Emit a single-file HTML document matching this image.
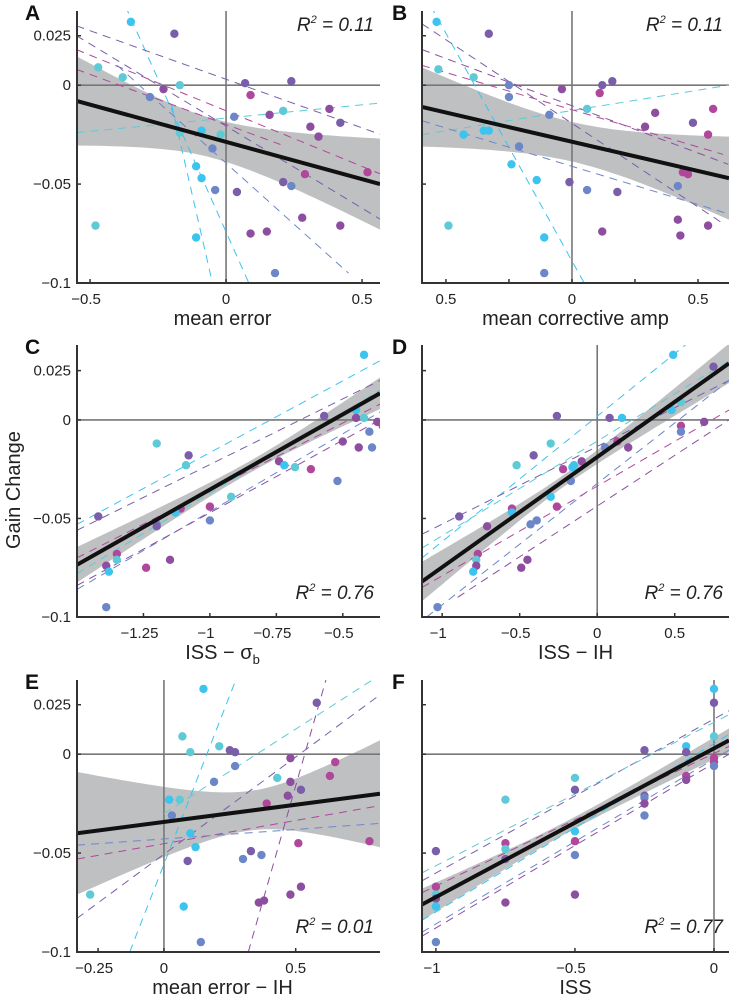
<!DOCTYPE html>
<html><head><meta charset="utf-8"><style>
body{margin:0;background:#fff;}
svg{display:block;font-family:"Liberation Sans",Arial,sans-serif;}
</style></head><body>
<svg id="fig" width="729" height="1005" viewBox="0 0 729 1005"></svg>
<script>
// ---------- DATA ----------
const colorCodes = {c:"#3cc3ee",t:"#5ecad5",b:"#6c87c8",p:"#7a5ea9",v:"#8d4ea0",m:"#b0479a"};
const pointsA = [[-0.35,0.032,'c'],[-0.19,0.026,'p'],[-0.47,0.009,'t'],[-0.38,0.004,'t'],[-0.23,-0.002,'v'],[-0.17,0.0,'t'],[-0.28,-0.006,'b'],[0.07,0.001,'p'],[0.24,0.002,'p'],[0.09,-0.005,'m'],[0.21,-0.013,'t'],[0.03,-0.016,'b'],[0.16,-0.015,'v'],[0.38,-0.012,'v'],[0.42,-0.019,'p'],[0.31,-0.021,'v'],[0.34,-0.026,'v'],[-0.17,-0.024,'t'],[-0.09,-0.023,'c'],[-0.02,-0.025,'t'],[-0.05,-0.032,'b'],[-0.11,-0.041,'c'],[-0.09,-0.047,'c'],[-0.04,-0.053,'b'],[0.04,-0.054,'p'],[0.21,-0.049,'p'],[0.24,-0.051,'b'],[0.29,-0.045,'m'],[0.52,-0.044,'m'],[-0.48,-0.071,'t'],[-0.11,-0.077,'c'],[0.09,-0.075,'v'],[0.15,-0.074,'v'],[0.28,-0.067,'v'],[0.42,-0.071,'v'],[0.18,-0.095,'b']];
const pointsB = [[-0.537,0.032,'c'],[-0.33,0.026,'p'],[-0.53,0.008,'t'],[-0.39,0.004,'t'],[-0.25,0.0,'b'],[-0.25,-0.006,'b'],[-0.04,-0.002,'v'],[0.06,-0.012,'t'],[-0.09,-0.015,'b'],[0.12,0.0,'p'],[0.16,0.002,'p'],[0.11,-0.004,'m'],[0.56,-0.012,'m'],[0.33,-0.014,'v'],[0.48,-0.019,'p'],[0.29,-0.021,'v'],[0.54,-0.025,'m'],[-0.43,-0.025,'c'],[-0.35,-0.023,'c'],[-0.33,-0.023,'c'],[-0.21,-0.031,'b'],[-0.24,-0.04,'c'],[-0.14,-0.048,'c'],[-0.01,-0.049,'p'],[0.06,-0.053,'b'],[0.18,-0.054,'p'],[0.44,-0.044,'m'],[0.46,-0.045,'m'],[0.42,-0.051,'b'],[-0.49,-0.071,'t'],[-0.11,-0.077,'c'],[0.12,-0.074,'v'],[0.42,-0.068,'v'],[0.43,-0.076,'v'],[0.54,-0.071,'v'],[-0.11,-0.095,'b']];
const pointsC = [[-0.42,0.033,'c'],[-0.27,0.027,'p'],[-0.32,0.009,'t'],[-0.45,0.005,'c'],[-0.57,0.002,'p'],[-0.45,0.001,'v'],[-0.42,0.001,'t'],[-0.40,-0.006,'b'],[-0.37,-0.001,'v'],[-0.35,-0.003,'m'],[-0.5,-0.011,'v'],[-0.44,-0.014,'v'],[-0.39,-0.014,'b'],[-1.20,-0.012,'t'],[-1.08,-0.018,'p'],[-1.09,-0.023,'t'],[-0.74,-0.021,'v'],[-0.72,-0.023,'c'],[-0.68,-0.024,'t'],[-0.62,-0.025,'m'],[-0.52,-0.031,'b'],[-0.92,-0.039,'t'],[-1.11,-0.045,'m'],[-1.13,-0.047,'c'],[-1.0,-0.044,'m'],[-1.0,-0.051,'b'],[-1.42,-0.049,'p'],[-1.20,-0.053,'b'],[-1.2,-0.054,'p'],[-1.35,-0.068,'m'],[-1.35,-0.071,'t'],[-1.39,-0.074,'v'],[-1.38,-0.077,'c'],[-1.24,-0.075,'m'],[-1.15,-0.071,'v'],[-1.39,-0.095,'b']];
const pointsD = [[0.49,0.033,'c'],[0.75,0.027,'p'],[0.54,0.009,'t'],[0.48,0.005,'c'],[-0.26,0.002,'p'],[0.08,0.001,'p'],[0.16,0.001,'c'],[0.54,-0.003,'m'],[0.54,-0.006,'b'],[0.69,-0.001,'v'],[-0.30,-0.012,'t'],[-0.41,-0.018,'p'],[0.05,-0.014,'b'],[0.13,-0.011,'m'],[0.20,-0.014,'v'],[-0.52,-0.023,'t'],[-0.22,-0.025,'m'],[-0.16,-0.024,'c'],[-0.15,-0.023,'c'],[-0.10,-0.021,'v'],[-0.17,-0.031,'b'],[-0.30,-0.039,'c'],[-0.26,-0.044,'m'],[-0.55,-0.045,'m'],[-0.55,-0.047,'c'],[-0.89,-0.049,'p'],[-0.43,-0.053,'b'],[-0.39,-0.051,'b'],[-0.71,-0.054,'v'],[-0.77,-0.068,'m'],[-0.78,-0.071,'t'],[-0.78,-0.074,'v'],[-0.80,-0.077,'c'],[-0.45,-0.071,'v'],[-0.49,-0.075,'v'],[-1.03,-0.095,'b']];
const pointsE = [[0.15,0.033,'c'],[0.58,0.026,'p'],[0.07,0.009,'t'],[0.21,0.004,'t'],[0.10,0.001,'t'],[0.25,0.002,'p'],[0.27,0.001,'p'],[0.27,-0.006,'b'],[0.48,-0.002,'v'],[0.65,-0.004,'m'],[0.43,-0.012,'t'],[0.19,-0.014,'b'],[0.48,-0.014,'v'],[0.63,-0.011,'m'],[0.47,-0.021,'v'],[0.52,-0.018,'p'],[0.39,-0.025,'m'],[0.02,-0.023,'c'],[0.06,-0.023,'t'],[0.03,-0.031,'b'],[0.10,-0.040,'c'],[0.12,-0.047,'c'],[0.51,-0.045,'m'],[0.78,-0.044,'m'],[0.09,-0.054,'p'],[0.33,-0.049,'p'],[0.30,-0.053,'b'],[0.37,-0.051,'b'],[-0.28,-0.071,'t'],[0.075,-0.077,'c'],[0.36,-0.075,'v'],[0.38,-0.074,'v'],[0.48,-0.071,'v'],[0.52,-0.067,'v'],[0.14,-0.095,'b']];
const pointsF = [[-1,-0.049,'p'],[-1,-0.067,'m'],[-1,-0.071,'t'],[-1,-0.073,'v'],[-1,-0.077,'c'],[-1,-0.095,'b'],[-0.75,-0.023,'t'],[-0.75,-0.045,'m'],[-0.75,-0.048,'t'],[-0.75,-0.053,'p'],[-0.75,-0.075,'v'],[-0.5,-0.012,'t'],[-0.5,-0.018,'p'],[-0.5,-0.039,'c'],[-0.5,-0.044,'m'],[-0.5,-0.051,'b'],[-0.5,-0.071,'v'],[-0.25,0.002,'p'],[-0.25,-0.021,'p'],[-0.25,-0.022,'b'],[-0.25,-0.025,'v'],[-0.25,-0.031,'b'],[-0.1,0.004,'c'],[-0.1,0.001,'p'],[-0.1,-0.011,'m'],[-0.1,-0.013,'v'],[0,0.033,'c'],[0,0.026,'p'],[0,0.009,'t'],[0,-0.002,'m'],[0,-0.004,'m'],[0,-0.006,'b']];
// fitted lines: [x0, y0, x1, y1]
const fitA=[-0.548,-0.008,0.566,-0.050], fitB=[-0.595,-0.011,0.623,-0.047], fitC=[-1.5,-0.0735,-0.36,0.0135];
const fitD=[-1.13,-0.082,0.85,0.0287], fitE=[-0.33,-0.040,0.82,-0.020], fitF=[-1.05,-0.076,0.054,0.007];
// confidence band half-widths: [xMid, wLeft, wMid, wRight]
const bandA=[-0.05,0.0225,0.010,0.023], bandB=[0,0.020,0.010,0.021], bandC=[-0.85,0.009,0.003,0.008];
const bandD=[-0.2,0.010,0.003,0.010], bandE=[0.33,0.031,0.010,0.027], bandF=[-0.5,0.008,0.003,0.006];
// per-subject dashed fits: [x0,y0,x1,y1,color]
const subjA=[[-0.37,0.04,0.1,-0.105,'c'],[-0.55,0.025,0.57,-0.068,'p'],[-0.55,0.018,0.57,-0.045,'m'],[-0.55,0.008,0.2,-0.03,'m'],[-0.55,-0.024,0.57,-0.009,'t'],[-0.4,0.01,0.45,-0.095,'b'],[-0.55,0.03,0.57,-0.025,'p'],[-0.2,-0.01,-0.05,-0.1,'c']];
const subjB=[[-0.56,0.04,0.07,-0.105,'c'],[-0.595,-0.025,0.623,0.0,'t'],[-0.595,0.031,0.6,-0.07,'p'],[-0.595,0.01,0.6,-0.035,'m'],[-0.595,0.018,0.62,-0.04,'v'],[-0.595,-0.018,0.62,-0.065,'b']];
const subjC=[[-1.5,-0.053,-0.36,0.03,'c'],[-1.5,-0.056,-0.36,0.02,'p'],[-1.5,-0.086,-0.36,0.004,'b'],[-1.5,-0.084,-0.36,0.0,'v'],[-1.5,-0.07,-0.36,0.008,'m'],[-1.5,-0.078,-0.36,0.015,'t']];
const subjD=[[-1.13,-0.07,0.6,0.04,'c'],[-1.13,-0.058,0.85,0.02,'p'],[-1.13,-0.065,0.85,0.03,'t'],[-1.1,-0.1,0.85,0.02,'b'],[-1.13,-0.085,0.85,0.005,'m'],[-0.9,-0.09,0.85,0.0,'v']];
const subjE=[[-0.13,-0.1,0.28,0.04,'c'],[0.32,-0.1,0.62,0.04,'v'],[0.0,-0.03,0.82,0.04,'t'],[-0.33,-0.083,0.82,0.03,'p'],[-0.33,-0.053,0.82,-0.026,'m'],[-0.33,-0.046,0.82,-0.035,'b']];
const subjF=[[-1.05,-0.064,0.054,0.022,'p'],[-1.05,-0.06,0.054,0.02,'t'],[-1.05,-0.09,0.054,0.002,'b'],[-1.05,-0.092,0.054,0.0,'v'],[-1.05,-0.07,0.054,0.004,'m'],[-1.05,-0.084,0.054,0.01,'c']];
const yTicks=[0.025,0,-0.05,-0.1], yTickLabels=["0.025","0","\u22120.05","\u22120.1"];
const xTicksA=[-0.5,0,0.5], xLabelsA=["\u22120.5","0","0.5"];
const xTicksB=[-0.5,-0.25,0,0.25,0.5], xLabelsB=["0.5","","0","","0.5"];
const xTicksC=[-1.25,-1,-0.75,-0.5], xLabelsC=["\u22121.25","\u22121","\u22120.75","\u22120.5"];
const xTicksD=[-1,-0.5,0,0.5], xLabelsD=["\u22121","\u22120.5","0","0.5"];
const xTicksE=[-0.25,0,0.5], xLabelsE=["\u22120.25","0","0.5"];
const xTicksF=[-1,-0.5,0], xLabelsF=["\u22121","\u22120.5","0"];
const r2Values=["0.11","0.11","0.76","0.76","0.01","0.77"];

// ---------- LAYOUT ----------
const NS="http://www.w3.org/2000/svg", svg=document.getElementById('fig');
function mk(tag,attrs,parent){const e=document.createElementNS(NS,tag);for(const k in attrs)e.setAttribute(k,attrs[k]);(parent||svg).appendChild(e);return e;}
const panels=[
 {id:'a',L:77,R:380,T:11,B:283,xd:[-0.548,0.566],yd:[-0.1,0.0375],pts:pointsA,fit:fitA,band:bandA,subj:subjA,xt:xTicksA,xl:xLabelsA,vz:true,ylab:true,title:'mean error',r2y:31},
 {id:'b',L:422,R:729,T:11,B:283,xd:[-0.595,0.623],yd:[-0.1,0.0375],pts:pointsB,fit:fitB,band:bandB,subj:subjB,xt:xTicksB,xl:xLabelsB,vz:true,ylab:false,title:'mean corrective amp',r2y:31},
 {id:'c',L:77,R:380,T:345,B:617,xd:[-1.5,-0.36],yd:[-0.1,0.038],pts:pointsC,fit:fitC,band:bandC,subj:subjC,xt:xTicksC,xl:xLabelsC,vz:false,ylab:true,title:'ISS \u2212 \u03c3',sub:'b',r2y:599},
 {id:'d',L:422,R:729,T:345,B:617,xd:[-1.13,0.85],yd:[-0.1,0.038],pts:pointsD,fit:fitD,band:bandD,subj:subjD,xt:xTicksD,xl:xLabelsD,vz:true,ylab:false,title:'ISS \u2212 IH',r2y:599},
 {id:'e',L:77,R:380,T:680,B:952,xd:[-0.33,0.82],yd:[-0.1,0.0375],pts:pointsE,fit:fitE,band:bandE,subj:subjE,xt:xTicksE,xl:xLabelsE,vz:true,ylab:true,title:'mean error \u2212 IH',r2y:933},
 {id:'f',L:422,R:729,T:680,B:952,xd:[-1.05,0.054],yd:[-0.1,0.0375],pts:pointsF,fit:fitF,band:bandF,subj:subjF,xt:xTicksF,xl:xLabelsF,vz:true,ylab:false,title:'ISS',r2y:933}
];
const defs=mk('defs',{});
panels.forEach((P,i)=>{
 const sx=v=>P.L+(v-P.xd[0])/(P.xd[1]-P.xd[0])*(P.R-P.L);
 const sy=v=>P.B-(v-P.yd[0])/(P.yd[1]-P.yd[0])*(P.B-P.T);
 const cp=mk('clipPath',{id:'clip'+P.id},defs); mk('rect',{x:P.L,y:P.T,width:P.R-P.L,height:P.B-P.T},cp);
 const g=mk('g',{});
 
 
 const inner=mk('g',{'clip-path':'url(#clip'+P.id+')'},g);
 // band
 const f=P.fit, ly=x=>f[1]+(x-f[0])*(f[3]-f[1])/(f[2]-f[0]);
 const bd=P.band, xm=bd[0];
 const kl=(bd[1]*bd[1]-bd[2]*bd[2])/Math.pow(P.xd[0]-xm,2), kr=(bd[3]*bd[3]-bd[2]*bd[2])/Math.pow(P.xd[1]-xm,2);
 const w=x=>Math.sqrt(bd[2]*bd[2]+(x<xm?kl:kr)*(x-xm)*(x-xm));
 let up=[],lo=[];
 for(let k=0;k<=60;k++){const x=P.xd[0]+(P.xd[1]-P.xd[0])*k/60;up.push(sx(x).toFixed(1)+','+sy(ly(x)+w(x)).toFixed(1));lo.unshift(sx(x).toFixed(1)+','+sy(ly(x)-w(x)).toFixed(1));}
 const band=mk('polygon',{points:up.concat(lo).join(' '),fill:'#bfc0c2'},inner);
 
 
 // zero lines
 const hz=mk('line',{x1:P.L,x2:P.R,y1:sy(0),y2:sy(0),stroke:'#777',"stroke-width":1.6},inner);
 
 
 if(P.vz){const vz=mk('line',{x1:sx(0),x2:sx(0),y1:P.T,y2:P.B,stroke:'#777',"stroke-width":1.6},inner);
  
  }
 // subject lines
 P.subj.forEach(s=>{const l=mk('line',{x1:sx(s[0]),y1:sy(s[1]),x2:sx(s[2]),y2:sy(s[3]),stroke:colorCodes[s[4]],"stroke-width":1,"stroke-dasharray":"8 6"},inner);
  
  });
 // points
 P.pts.forEach(p=>{const c=mk('circle',{cx:sx(p[0]),cy:sy(p[1]),r:4.2,fill:colorCodes[p[2]]},inner);
  
  });
 // fit line
 const fl=mk('line',{x1:sx(f[0]),y1:sy(f[1]),x2:sx(f[2]),y2:sy(f[3]),stroke:'#111',"stroke-width":4},inner);
 
 
 // axes
 const ax=mk('path',{d:`M${P.L},${P.T} V${P.B} H${P.R}`,fill:'none',stroke:'#333',"stroke-width":2},g);
 
 
 yTicks.forEach((t,k)=>{mk('line',{x1:P.L,x2:P.L+4,y1:sy(t),y2:sy(t),stroke:'#333',"stroke-width":1.5},g);
  if(P.ylab){const tx=mk('text',{x:P.L-6,y:sy(t)+5,"text-anchor":'end',"font-size":15,fill:'#222'},g);tx.textContent=yTickLabels[k];
   
   }});
 P.xt.forEach((t,k)=>{mk('line',{x1:sx(t),x2:sx(t),y1:P.B,y2:P.B-4,stroke:'#333',"stroke-width":1.5},g);
  if(P.xl[k]){const tx=mk('text',{x:sx(t)-(P.xl[k][0]=='\u2212'?4:0),y:P.B+21,"text-anchor":'middle',"font-size":15,fill:'#222'},g);tx.textContent=P.xl[k];
   
   }});
 const tt=mk('text',{x:(P.L+P.R)/2+(P.L<100?-6:0),y:P.B+42,"text-anchor":'middle',"font-size":20,fill:'#222'},g);
 tt.textContent=P.title;
 if(P.sub){const ts=mk('tspan',{"font-size":13,dy:5},tt);ts.textContent=P.sub;}
 
 
 const lt=mk('text',{x:P.L-52+(P.L>400?22:0),y:P.T+9,"font-size":21,"font-weight":'bold',fill:'#111'},g);
 lt.textContent=P.id.toUpperCase();
 
 
 const r2=mk('text',{x:P.R-6,y:P.r2y,"text-anchor":'end',"font-size":19,"font-style":'italic',fill:'#222'},g);
 r2.innerHTML='R<tspan font-size="11" dy="-8">2</tspan><tspan dy="8"> = '+r2Values[i]+'</tspan>';
 
 
});
const yl=mk('text',{x:0,y:0,transform:'translate(20,490) rotate(-90)',"text-anchor":'middle',"font-size":20,fill:'#222'});
yl.textContent='Gain Change';


</script>
</body></html>
